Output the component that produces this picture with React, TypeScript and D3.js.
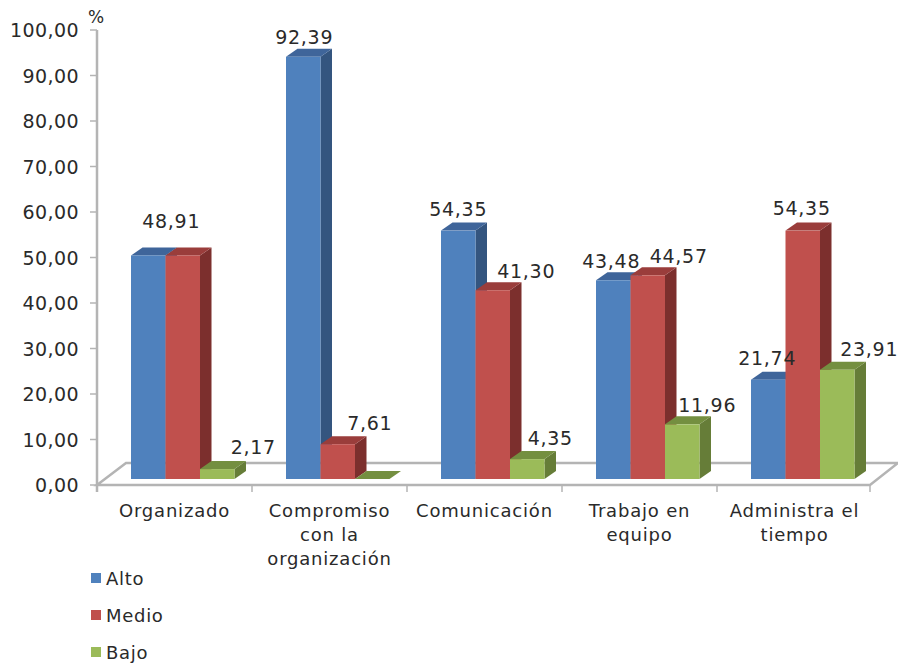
import React from "react";
import * as d3 from "d3";

// Survey dimensions and the three levels, in percent
const categories = ["Organizado", "Compromiso con la organización", "Comunicación", "Trabajo en equipo", "Administra el tiempo"];
const categoryLines = [["Organizado"], ["Compromiso", "con la", "organización"], ["Comunicación"], ["Trabajo en", "equipo"], ["Administra el", "tiempo"]];
const alto = [48.91, 92.39, 54.35, 43.48, 21.74];
const medio = [48.91, 7.61, 41.3, 44.57, 54.35];
const bajo = [2.17, 0, 4.35, 11.96, 23.91];
const yTicks = [0, 10, 20, 30, 40, 50, 60, 70, 80, 90, 100];

const seriesNames = ["Alto", "Medio", "Bajo"];
const seriesValues = [alto, medio, bajo];
const faceColors = ["#4f81bd", "#c0504d", "#9bbb59"];
const topColors = ["#3f659a", "#9a3d3b", "#748f40"];
const sideColors = ["#34557f", "#7c2f2d", "#667d38"];

// Label offsets from each bar's centre and top; null means the label is omitted
const labelShift: ([number, number] | null)[][] = [
  [[23, -27], null, [36, -15]],
  [[1, -13], [32, -14], null],
  [[0, -15], [33.5, -12], [23, -14]],
  [[-2, -12], [31, -12], [25, -12]],
  [[-1, -15], [-1, -16], [32, -14]],
];

const font = "'DejaVu Sans', Verdana, sans-serif";
const textColor = "#2a2a2a";
const gridColor = "#b4b4b4";
const depthX = 11.5;
const depthY = 8;
const baseY = 479;
const floorFront = 485;
const floorBack = 463;

const pts = (p: number[][]) => p.map((q) => q.join(",")).join(" ");

export default function App() {
  const axisY = d3.scaleLinear().domain([0, 100]).range([485, 30]);
  const barH = d3.scaleLinear().domain([0, 100]).range([0, 457]);
  const x0 = d3.scaleBand<string>().domain(categories).range([97, 872]);
  const x1 = d3.scaleBand<string>().domain(seriesNames).range([34, 137.5]);
  const w = x1.bandwidth();

  return (
    <svg width={898} height={664} style={{ position: "absolute", left: 0, top: 0, background: "#fff" }} fontFamily={font} fill={textColor}>
      {/* floor of the 3D plot */}
      <polygon
        points={pts([[97, floorFront], [126, floorBack], [898, floorBack], [870, floorFront]])}
        fill="#fff"
        stroke={gridColor}
        strokeWidth={2.5}
      />
      {/* value axis */}
      <line x1={97} x2={97} y1={axisY(100)} y2={axisY(0) + 7} stroke={gridColor} strokeWidth={2.5} />
      {yTicks.map((t) => (
        <g key={t}>
          <line x1={90} x2={97} y1={axisY(t)} y2={axisY(t)} stroke={gridColor} strokeWidth={1.5} />
          <text x={79} y={axisY(t) + 7} textAnchor="end" fontSize={19} letterSpacing={0.4}>
            {t.toFixed(2).replace(".", ",")}
          </text>
        </g>
      ))}
      <text x={88} y={23} fontSize={17}>%</text>
      {/* category ticks */}
      {d3.range(categories.length + 1).map((i) => {
        const tx = i < categories.length ? x0(categories[i])! : 870;
        return <line key={i} x1={tx} x2={tx} y1={floorFront} y2={492} stroke={gridColor} strokeWidth={1.5} />;
      })}
      {/* bars */}
      {categories.map((c, ci) =>
        seriesNames.map((s, si) => {
          const v = seriesValues[si][ci];
          const left = x0(c)! + x1(s)!;
          const right = left + w;
          const top = baseY - barH(v);
          return (
            <g key={s}>
              <polygon
                points={pts([[right, top], [right + depthX, top - depthY], [right + depthX, baseY - depthY], [right, baseY]])}
                fill={sideColors[si]}
              />
              <polygon
                points={pts([[left, top], [left + depthX, top - depthY], [right + depthX, top - depthY], [right, top]])}
                fill={topColors[si]}
              />
              <rect x={left} y={top} width={w} height={baseY - top} fill={faceColors[si]} />
            </g>
          );
        })
      )}
      {/* data labels */}
      {categories.map((c, ci) =>
        seriesNames.map((s, si) => {
          const shift = labelShift[ci][si];
          if (!shift) return null;
          const v = seriesValues[si][ci];
          const cx = x0(c)! + x1(s)! + w / 2;
          return (
            <text key={s} x={cx + shift[0]} y={baseY - barH(v) + shift[1]} textAnchor="middle" fontSize={19} letterSpacing={0.7}>
              {v.toFixed(2).replace(".", ",")}
            </text>
          );
        })
      )}
      {/* category labels */}
      {categories.map((c, ci) => (
        <text key={c} textAnchor="middle" fontSize={18} letterSpacing={0.8}>
          {categoryLines[ci].map((line, li) => (
            <tspan key={li} x={x0(c)! + x0.bandwidth() / 2} y={517 + li * 24}>
              {line}
            </tspan>
          ))}
        </text>
      ))}
      {/* legend */}
      {seriesNames.map((s, i) => (
        <g key={s} transform={`translate(91, ${573 + i * 37})`}>
          <rect width={10} height={10} fill={faceColors[i]} />
          <text x={15} y={12} fontSize={18} letterSpacing={0.7}>{s}</text>
        </g>
      ))}
    </svg>
  );
}
